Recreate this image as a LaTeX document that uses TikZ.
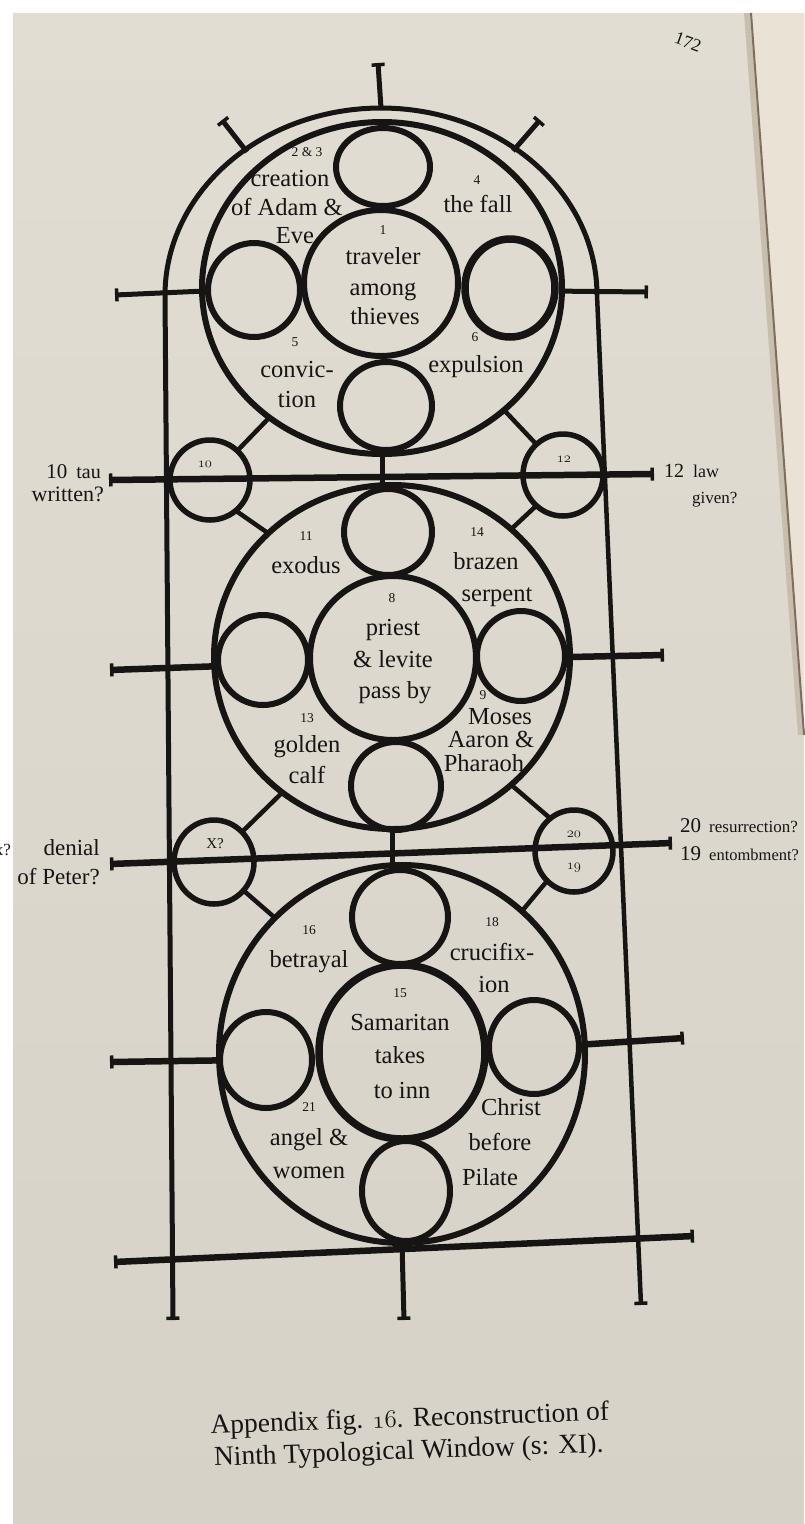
\documentclass[tikz,border=0pt]{standalone}
\usepackage{fontspec}
\setmainfont{Liberation Serif}
\newcommand{\osnum}[1]{{\usefont{OML}{cmm}{m}{it}#1}}
\usetikzlibrary{shapes.geometric,arrows.meta}
\definecolor{paperT}{RGB}{225,221,210}
\definecolor{paperB}{RGB}{214,210,199}
\definecolor{rpage}{RGB}{234,226,213}
\definecolor{gutter}{RGB}{128,110,92}
\definecolor{gshade}{RGB}{200,190,176}
\definecolor{ink}{RGB}{22,21,20}
\begin{document}
\begin{tikzpicture}[x=1pt,y=-1pt,
  Flare/.tip={Bar[width=13pt,line width=3.5pt]},
  ring/.style={ellipse, draw=ink, line width=6pt, inner sep=0pt, outer sep=0pt},
  lead/.style={draw=ink, line width=6.5pt},
  frame/.style={draw=ink, line width=5pt},
  strut/.style={draw=ink, line width=4.5pt},
  lbl/.style={text=ink, font=\fontsize{24.5}{28}\selectfont, inner sep=0pt, anchor=base},
  num/.style={text=ink, font=\fontsize{13.5}{15}\selectfont, inner sep=0pt, anchor=base},
  side/.style={text=ink, inner sep=0pt},
]
\useasboundingbox (0,0) rectangle (804,1524);
% page
\fill[white] (0,0) rectangle (804,1524);
\shade[top color=paperT, bottom color=paperB] (13,13) rectangle (804,1524);
\fill[rpage] (751,13) -- (804,13) -- (804,735) -- cycle;
\draw[gshade, line width=6pt] (747,13) -- (801,735);
\draw[gutter, line width=2pt] (751,13) -- (804,735);

% ---- outer frame ----
\coordinate (archL) at (165,295);
\coordinate (archR) at (597,295);
\coordinate (archT) at (381,108);
\coordinate (lvb) at (173,1320);
\coordinate (rvb) at (641,1305);
\coordinate (topend) at (378,63);
\coordinate (dlo) at (222,120); \coordinate (dli) at (247,152);
\coordinate (dro) at (540,120); \coordinate (dri) at (513,151);
\draw[frame] plot[domain=180:360, samples=90] ({381+216*cos(\x)},{295+187*sin(\x)});
\draw[frame,-Flare] (archL) -- (lvb);
\draw[draw=ink, line width=4.5pt,-Flare] (archR) -- (rvb);
\draw[frame,Flare-] (topend) -- (archT);
\draw[frame,Flare-] (dlo) -- (dli);
\draw[frame,Flare-] (dro) -- (dri);

% ---- horizontal bars ----
\coordinate (b1l) at (109,480); \coordinate (b1r) at (654,474);
\coordinate (b2l) at (110,864); \coordinate (b2r) at (672,843);
\coordinate (b3l) at (114,1262); \coordinate (b3r) at (694,1236);
\draw[lead,Flare-Flare] (b1l) -- (b1r);
\draw[lead,Flare-Flare] (b2l) -- (b2r);
\draw[lead,Flare-Flare] (b3l) -- (b3r);

% ---- top rosette ----
\node[ring, minimum width=360pt, minimum height=332pt] (TA) at (382,288) {};
\node[ring, minimum width=154pt, minimum height=146pt] (T1) at (381,283) {};
\node[ring, minimum width=94pt, minimum height=78pt] (Ttop) at (383,167) {};
\node[ring, minimum width=92pt, minimum height=94pt] (Tleft) at (254,290) {};
\node[ring, line width=7.5pt, minimum width=90pt, minimum height=98pt] (Tright) at (510,288) {};
\node[ring, minimum width=92pt, minimum height=88pt] (Tbot) at (386,406) {};

% ---- middle rosette ----
\node[ring, minimum width=356pt, minimum height=344pt] (MA) at (392,657) {};
\node[ring, minimum width=166pt, minimum height=164pt] (M1) at (393,658) {};
\node[ring, minimum width=88pt, minimum height=86pt] (Mtop) at (388,532) {};
\node[ring, minimum width=90pt, minimum height=90pt] (Mleft) at (263,660) {};
\node[ring, minimum width=88pt, minimum height=90pt] (Mright) at (521,656) {};
\node[ring, minimum width=90pt, minimum height=88pt] (Mbot) at (396,786) {};

% ---- bottom rosette ----
\node[ring, minimum width=366pt, minimum height=378pt] (BA) at (402,1054) {};
\node[ring, line width=7.5pt, minimum width=166pt, minimum height=174pt] (B1) at (402,1052) {};
\node[ring, minimum width=96pt, minimum height=94pt] (Btop) at (400,917) {};
\node[ring, minimum width=92pt, minimum height=96pt] (Bleft) at (266,1060) {};
\node[ring, minimum width=90pt, minimum height=94pt] (Bright) at (534,1047) {};
\node[ring, minimum width=88pt, minimum height=100pt] (Bbot) at (406,1191) {};

% ---- small side circles ----
\node[ring, line width=5.5pt, minimum width=80pt, minimum height=80pt] (C10) at (210,480) {};
\node[ring, line width=5.5pt, minimum width=80pt, minimum height=82pt] (C12) at (563,475) {};
\node[ring, line width=5.5pt, minimum width=80pt, minimum height=84pt] (CX) at (214,862) {};
\node[ring, line width=5.5pt, minimum width=78pt, minimum height=82pt] (C20) at (574,851) {};

% ---- side bars ----
\coordinate (tl) at (115,295); \coordinate (tr) at (648,292);
\coordinate (ml) at (110,670); \coordinate (mr) at (664,655);
\coordinate (bl) at (110,1062); \coordinate (br) at (684,1038);
\draw[frame,Flare-] (tl) -- (TA.181);
\draw[frame,-Flare] (TA.359) -- (tr);
\draw[lead,Flare-] (ml) -- (MA.183);
\draw[lead,-Flare] (MA.east) -- (mr);
\draw[lead,Flare-] (bl) -- (BA.182);
\draw[lead,-Flare] (BA.3) -- (br);

% ---- central stubs ----
\coordinate (bsb) at (404,1320);
\draw[frame] (TA.south) -- (TA.south |- MA.north);
\draw[frame] (MA.south) -- (MA.south |- BA.north);
\draw[frame,-Flare] (BA.south) -- (bsb);

% ---- diagonal struts ----
\draw[strut] (TA.229) -- (C10.47);
\draw[strut] (C10.310) -- (MA.135);
\draw[strut] (TA.315) -- (C12.131);
\draw[strut] (C12.229) -- (MA.47);
\draw[strut] (MA.231) -- (CX.47);
\draw[strut] (CX.316) -- (BA.133);
\draw[strut] (MA.313) -- (C20.126);
\draw[strut] (C20.228) -- (BA.50);

% ---- top labels ----
\node[num] (n23) at (307,156) {2 \& 3};
\node[lbl] (tcre) at (290,186) {creation};
\node[lbl] (tofa) at (287,215) {of Adam \&};
\node[lbl] (teve) at (295,243) {Eve};
\node[num] (n4) at (477,184) {4};
\node[lbl] (tfal) at (478,212) {the fall};
\node[num] (n1) at (383,234) {1};
\node[lbl] (ttra) at (383,264) {traveler};
\node[lbl] (tamo) at (383,295) {among};
\node[lbl] (tthi) at (385,324) {thieves};
\node[num] (n5) at (295,346) {5};
\node[lbl] (tcon) at (297,377) {convic-};
\node[lbl] (ttio) at (297,407) {tion};
\node[num] (n6) at (475,341) {6};
\node[lbl] (texp) at (476,372) {expulsion};

% ---- middle labels ----
\node[num] (n10) at (205,467) {\osnum{10}};
\node[num] (n12) at (564,462) {\osnum{12}};
\node[num] (n11) at (306,540) {11};
\node[lbl] (texo) at (306,573) {exodus};
\node[num] (n14) at (477,536) {14};
\node[lbl] (tbra) at (486,569) {brazen};
\node[lbl] (tser) at (497,601) {serpent};
\node[num] (n8) at (392,602) {8};
\node[lbl] (tpri) at (393,635) {priest};
\node[lbl] (tlev) at (393,667) {\& levite};
\node[lbl] (tpas) at (395,698) {pass by};
\node[num] (n9) at (483,699) {9};
\node[lbl] (tmos) at (500,724) {Moses};
\node[lbl] (taar) at (491,747) {Aaron \&};
\node[lbl] (tpha) at (484,771) {Pharaoh};
\node[num] (n13) at (307,722) {13};
\node[lbl] (tgol) at (307,752) {golden};
\node[lbl] (tcal) at (307,783) {calf};

% ---- side texts ----
\node[side, anchor=base east] (stau) at (101,478) {\fontsize{21}{24}\selectfont 10\hspace{9pt}{\fontsize{20}{22}\selectfont tau}};
\node[side, anchor=base east] (swri) at (104,501) {\fontsize{22}{24}\selectfont written?};
\node[side, anchor=base west] (slaw) at (664,477) {\fontsize{20}{22}\selectfont 12\hspace{9pt}{\fontsize{18}{20}\selectfont law}};
\node[side, anchor=base west] (sgiv) at (692,503) {\fontsize{17}{20}\selectfont given?};
\node[num, font=\fontsize{15}{17}\selectfont] (nX) at (215,848) {X?};
\node[num] (n20) at (574,837) {\osnum{20}};
\node[num] (n19) at (574,869) {\osnum{19}};
\node[side, anchor=base east] (sxq) at (11,855) {\fontsize{17}{19}\selectfont x?};
\node[side, anchor=base east] (sden) at (100,855) {\fontsize{23}{26}\selectfont denial};
\node[side, anchor=base east] (spet) at (100,884) {\fontsize{23}{26}\selectfont of Peter?};
\node[side, anchor=base west] (sres) at (680,832) {\fontsize{21}{24}\selectfont 20\hspace{8pt}{\fontsize{17}{20}\selectfont resurrection?}};
\node[side, anchor=base west] (sent) at (680,860) {\fontsize{21}{24}\selectfont 19\hspace{8pt}{\fontsize{16.5}{20}\selectfont entombment?}};

% ---- bottom labels ----
\node[num] (n16) at (309,934) {16};
\node[lbl] (tbet) at (309,967) {betrayal};
\node[num] (n18) at (492,926) {18};
\node[lbl] (tcru) at (492,960) {crucifix-};
\node[lbl] (tion) at (494,992) {ion};
\node[num] (n15) at (400,997) {15};
\node[lbl] (tsam) at (400,1030) {Samaritan};
\node[lbl] (ttak) at (400,1063) {takes};
\node[lbl] (tinn) at (402,1098) {to inn};
\node[num] (n21) at (309,1111) {21};
\node[lbl] (tang) at (309,1145) {angel \&};
\node[lbl] (twom) at (309,1178) {women};
\node[lbl] (tchr) at (511,1115) {Christ};
\node[lbl] (tbef) at (500,1150) {before};
\node[lbl] (tpil) at (490,1185) {Pilate};

% ---- caption and page number ----
\node[side, anchor=base, rotate=2] (cap1) at (410,1427) {\fontsize{27.5}{30}\selectfont Appendix fig. \osnum{16}. Reconstruction of};
\node[side, anchor=base, rotate=2] (cap2) at (409,1459) {\fontsize{27.5}{30}\selectfont Ninth Typological Window (s: XI).};
\node[side, rotate=-20] (pg) at (688,42) {\fontsize{18}{20}\selectfont 172};
\end{tikzpicture}
\end{document}
